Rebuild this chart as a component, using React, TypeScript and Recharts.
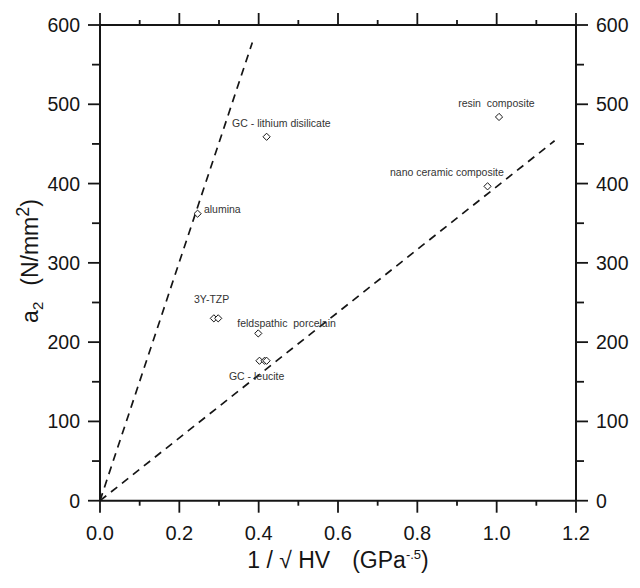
import { ScatterChart, Scatter, XAxis, YAxis, ReferenceLine } from 'recharts';

// measured points (1/sqrt(HV), a2)
const pointX = [0.246, 0.42, 0.287, 0.298, 0.399, 0.402, 0.415, 0.42, 0.977, 1.006];
const pointY = [362, 459, 230, 230, 211, 176.5, 176.5, 176.5, 396.5, 484];

// material annotations: text start + baseline, in data units
const labelText = [
  'GC - lithium disilicate',
  'alumina',
  'resin  composite',
  'nano ceramic composite',
  '3Y-TZP',
  'feldspathic  porcelain',
  'GC - leucite',
];
const labelX = [0.333, 0.262, 0.903, 0.731, 0.237, 0.346, 0.325];
const labelY = [471, 363, 497, 409, 249, 219, 152];

// dashed bounding lines through the origin
const steepLineX = [0, 0.384];
const steepLineY = [0, 578];
const shallowLineX = [0, 1.146];
const shallowLineY = [0, 454];

const xTicks = [0, 0.1, 0.2, 0.3, 0.4, 0.5, 0.6, 0.7, 0.8, 0.9, 1.0, 1.1, 1.2];
const yTicks = [0, 50, 100, 150, 200, 250, 300, 350, 400, 450, 500, 550, 600];

const FONT = '"Liberation Sans", Arial, sans-serif';
const INK = '#151515';

const points = pointX.map((x, i) => ({ x, y: pointY[i] }));
const labels = labelText.map((text, i) => ({ x: labelX[i], y: labelY[i], text }));

function XTick(props: any) {
  const { x, y, payload, top } = props;
  const v = payload.value as number;
  const major = Math.round(v * 10) % 2 === 0;
  const len = major ? 12 : 5;
  return (
    <g>
      <line x1={x} x2={x} y1={y} y2={top ? y - len : y + len} stroke={INK} strokeWidth={1.8} />
      {!top && major && (
        <text x={x} y={y + 39} textAnchor="middle" fontSize={20} fontFamily={FONT} fill={INK}>
          {v.toFixed(1)}
        </text>
      )}
    </g>
  );
}

function YTick(props: any) {
  const { x, y, payload, right } = props;
  const v = payload.value as number;
  const major = v % 100 === 0;
  const len = major ? 12 : 8;
  const dir = right ? 1 : -1;
  return (
    <g>
      <line x1={x} x2={x + dir * len} y1={y} y2={y} stroke={INK} strokeWidth={1.8} />
      {major && (
        <text
          x={x + dir * 20}
          y={y}
          dy="0.36em"
          textAnchor={right ? 'start' : 'end'}
          fontSize={19.5}
          fontFamily={FONT}
          fill={INK}
        >
          {v}
        </text>
      )}
    </g>
  );
}

function Diamond(props: any) {
  const { cx, cy } = props;
  const h = 3.6;
  return (
    <polygon
      points={`${cx},${cy - h} ${cx + h},${cy} ${cx},${cy + h} ${cx - h},${cy}`}
      fill="#fff"
      stroke={INK}
      strokeWidth={1}
    />
  );
}

function NoteText(props: any) {
  const { cx, cy, payload } = props;
  return (
    <text x={cx} y={cy} fontSize={10.5} fontFamily={FONT} fill="#333" style={{ whiteSpace: 'pre' }}>
      {payload.text}
    </text>
  );
}

const Nothing = () => <g />;

const axisLine = { stroke: INK, strokeWidth: 2 };
const dash = { stroke: INK, strokeWidth: 1.7, strokeDasharray: '8 6' };

export default function App() {
  return (
    <div style={{ position: 'absolute', left: 0, top: 0, background: '#fff' }}>
      <ScatterChart width={640} height={588} margin={{ top: 24, right: 0, bottom: 0, left: 0 }}>
        <XAxis
          xAxisId="b"
          type="number"
          dataKey="x"
          domain={[0, 1.2]}
          ticks={xTicks}
          interval={0}
          height={87.3}
          axisLine={axisLine}
          tickLine={false}
          tickSize={0}
          tickMargin={0}
          tick={(p: any) => <XTick {...p} />}
        />
        <XAxis
          xAxisId="t"
          orientation="top"
          type="number"
          dataKey="x"
          domain={[0, 1.2]}
          ticks={xTicks}
          interval={0}
          height={1}
          axisLine={axisLine}
          tickLine={false}
          tickSize={0}
          tickMargin={0}
          tick={(p: any) => <XTick {...p} top />}
        />
        <YAxis
          yAxisId="l"
          type="number"
          dataKey="y"
          domain={[0, 600]}
          ticks={yTicks}
          interval={0}
          width={100}
          axisLine={axisLine}
          tickLine={false}
          tickSize={0}
          tickMargin={0}
          tick={(p: any) => <YTick {...p} />}
        />
        <YAxis
          yAxisId="r"
          orientation="right"
          type="number"
          dataKey="y"
          domain={[0, 600]}
          ticks={yTicks}
          interval={0}
          width={64}
          axisLine={axisLine}
          tickLine={false}
          tickSize={0}
          tickMargin={0}
          tick={(p: any) => <YTick {...p} right />}
        />
        <ReferenceLine
          xAxisId="b"
          yAxisId="l"
          segment={[
            { x: steepLineX[0], y: steepLineY[0] },
            { x: steepLineX[1], y: steepLineY[1] },
          ]}
          {...dash}
        />
        <ReferenceLine
          xAxisId="b"
          yAxisId="l"
          segment={[
            { x: shallowLineX[0], y: shallowLineY[0] },
            { x: shallowLineX[1], y: shallowLineY[1] },
          ]}
          {...dash}
        />
        {/* ties the mirrored top/right axes to data so they render */}
        <Scatter xAxisId="t" yAxisId="r" data={points} shape={<Nothing />} isAnimationActive={false} />
        <Scatter xAxisId="b" yAxisId="l" data={points} shape={<Diamond />} isAnimationActive={false} />
        <Scatter xAxisId="b" yAxisId="l" data={labels} shape={<NoteText />} isAnimationActive={false} />
        <text x={338} y={568} textAnchor="middle" fontSize={23} fontFamily={FONT} fill={INK}>
          1 / √ HV
          <tspan dx={22}>(GPa</tspan>
          <tspan fontSize={13} dy={-9}>-.5</tspan>
          <tspan dy={9}>)</tspan>
        </text>
        <text
          x={38}
          y={261}
          transform="rotate(-90, 38, 261)"
          textAnchor="middle"
          fontSize={23}
          fontFamily={FONT}
          fill={INK}
        >
          a
          <tspan fontSize={15} dy={5}>2</tspan>
          <tspan dx={16} dy={-5}>(N/mm</tspan>
          <tspan fontSize={18} dy={-9}>2</tspan>
          <tspan dy={9}>)</tspan>
        </text>
      </ScatterChart>
    </div>
  );
}
